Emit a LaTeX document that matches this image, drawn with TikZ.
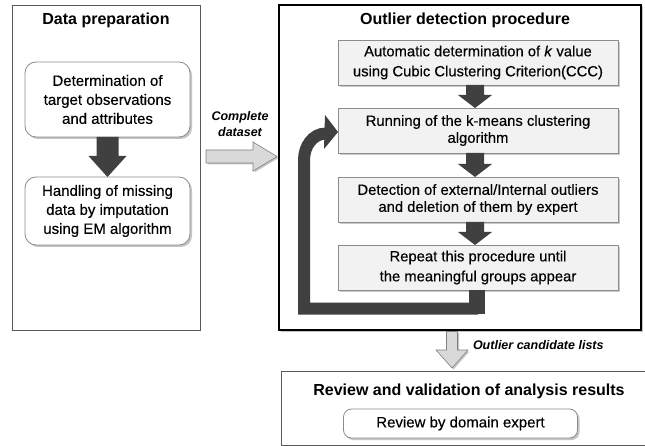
\documentclass[tikz,border=0pt]{standalone}
\usepackage{fontspec}
\setmainfont{Liberation Sans}
\newfontfamily\boxfont[FakeBold=0.35]{Liberation Sans}
\usetikzlibrary{shadows,calc}
\definecolor{darkar}{HTML}{404040}
\definecolor{boxfill}{HTML}{F2F2F2}
\definecolor{boxline}{HTML}{8C8C8C}
\definecolor{lightar}{HTML}{D9D9D9}
\newcommand\blockdown[6]{%
  \path[#6] let \p1=(#1), \p2=(#2) in
  (\x1-#3,\y1) -- (\x1-#3,\y2+#5) -- (\x1-#4,\y2+#5) -- (\x1,\y2) --
  (\x1+#4,\y2+#5) -- (\x1+#3,\y2+#5) -- (\x1+#3,\y1) -- cycle;}
\newcommand\blockright[6]{%
  \path[#6] let \p1=(#1), \p2=(#2) in
  (\x1,\y1+#3) -- (\x2-#5,\y1+#3) -- (\x2-#5,\y1+#4) -- (\x2,\y1) --
  (\x2-#5,\y1-#4) -- (\x2-#5,\y1-#3) -- (\x1,\y1-#3) -- cycle;}
\begin{document}
\begin{tikzpicture}[x=1pt,y=-1pt,
  every node/.style={inner sep=0pt, outer sep=0pt},
  panel/.style={draw=#1, fill=white, anchor=north west},
  ttl/.style={font=\fontsize{16}{18}\selectfont\bfseries},
  lbl/.style={font=\fontsize{12.5}{16}\selectfont\bfseries\itshape, align=center},
  rbox/.style={draw=boxline, fill=white, rounded corners=11pt, line width=0.8pt,
    drop shadow={shadow xshift=2pt, shadow yshift=-2pt, fill=black!45},
    minimum width=165pt, align=center, font=\boxfont\fontsize{15}{19}\selectfont},
  gbox/.style={draw=boxline, fill=boxfill, line width=0.8pt,
    drop shadow={shadow xshift=2pt, shadow yshift=-2pt, fill=black!40},
    minimum width=280pt, minimum height=45pt, align=center,
    font=\boxfont\fontsize{14.8}{20}\selectfont},
  dk/.style={fill=darkar},
  lg/.style={fill=lightar, draw=gray, line width=0.6pt,
    drop shadow={shadow xshift=1.5pt, shadow yshift=-1.5pt, fill=black!45}}
]
\useasboundingbox (0,0) rectangle (645,446);

% panels
\node[panel=black!65, line width=0.8pt, minimum width=188pt, minimum height=325pt] (LP) at (12,5) {};
\node[panel=black, line width=2.2pt, minimum width=362pt, minimum height=325pt,
  drop shadow={shadow xshift=1.5pt, shadow yshift=-1.5pt, fill=black!45}] (RP) at (279,5) {};
\node[panel=black!65, line width=0.8pt, minimum width=364pt, minimum height=74pt,
  drop shadow={shadow xshift=1.5pt, shadow yshift=-1.5pt, fill=black!35}] (BP) at (281,371) {};

% titles
\node[ttl] (t1) at (106,20) {Data preparation};
\node[ttl] (t2) at (465,20) {Outlier detection procedure};
\node[ttl] (t3) at (469,391) {Review and validation of analysis results};

% left boxes
\node[rbox, minimum height=75pt] (L1) at (107.5,99.5) {Determination of\\target observations\\and attributes};
\node[rbox, minimum height=68pt] (L2) at (107.5,211) {Handling of missing\\data by imputation\\using EM algorithm};
\blockdown{L1.south}{L2.north}{11pt}{19pt}{21pt}{dk}

% right boxes
\node[gbox] (A) at (478,62.5) {Automatic determination of \textit{k} value\\using Cubic Clustering Criterion(CCC)};
\node[gbox, font=\boxfont\fontsize{14.8}{17}\selectfont] (B) at (478,130.5) {Running of the k-means clustering\\algorithm};
\node[gbox, font=\boxfont\fontsize{14.8}{17}\selectfont] (C) at (478,199.5) {Detection of external/Internal outliers\\and deletion of them by expert};
\node[gbox] (D) at (478,267.5) {Repeat this procedure until\\the meaningful groups appear};

\coordinate (Aa) at ($(A.south)+(-3,0)$);
\coordinate (Ba) at ($(B.south)+(-3,0)$);
\coordinate (Ca) at ($(C.south)+(-3,0)$);
\blockdown{Aa}{B.north}{9pt}{17pt}{13pt}{dk}
\blockdown{Ba}{C.north}{9pt}{17pt}{13pt}{dk}
\blockdown{Ca}{D.north}{9pt}{17pt}{13pt}{dk}

% feedback loop
\fill[darkar] ($(D.south)+(-9,0)$) rectangle ($(D.south)+(7,24)$);
\coordinate (lb) at (304,308.5);
\coordinate (lt) at (304,160);
\coordinate (le) at (326,133.5);
\draw[darkar, line width=12pt] ($(D.south)+(0,18.5)$) -- (lb) -- (lt) to[out=90,in=180] (le);
\fill[darkar] (325,115) -- (B.west |- 0,132) -- (324,149) -- cycle;

% complete dataset arrow
\coordinate (cs) at (206,156.5);
\coordinate (ce) at (277,156.5);
\blockright{cs}{ce}{6.5pt}{14.5pt}{24pt}{lg}
\node[lbl] (cl) at (240,124) {Complete\\dataset};

% outlier candidate arrow
\coordinate (os) at ($(RP.south)+(-8,1.5)$);
\coordinate (oe) at ($(RP.south)+(-8,38)$);
\blockdown{os}{oe}{5.5pt}{16pt}{18pt}{lg}
\node[lbl, anchor=west] (ol) at (473,345) {Outlier candidate lists};

% review box
\node[rbox, minimum width=234pt, minimum height=29pt, rounded corners=8pt,
  font=\boxfont\fontsize{15}{17}\selectfont] (R) at (460.5,423.5) {Review by domain expert};
\end{tikzpicture}
\end{document}
